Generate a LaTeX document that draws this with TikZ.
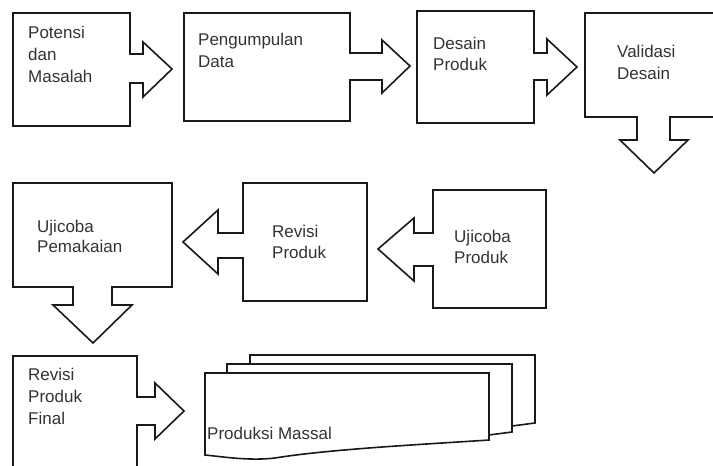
\documentclass[tikz,border=0pt]{standalone}
\usepackage{fontspec}
\setmainfont{Liberation Sans}
\usetikzlibrary{positioning}

\tikzset{
  blok/.style={draw=black!90,line width=1.6pt,fill=white,line join=miter},
  lbl/.style={anchor=north west,inner sep=0pt,align=left,text=black!80,
    font=\fontsize{17}{22}\selectfont}
}

\begin{document}
\begin{tikzpicture}[x=1pt,y=-1pt]
    \useasboundingbox (0,0) rectangle (713,466);

    %first row: boxes with right arrows
    \draw[blok] (13,13) -- (130,13) -- (130,54) -- (143,54) -- (143,42) -- (172,69)
        -- (143,97) -- (143,83) -- (130,83) -- (130,126) -- (13,126) -- cycle;
    \draw[blok] (184,13) -- (350,13) -- (350,53) -- (382,53) -- (382,40) -- (410,66)
        -- (382,93) -- (382,80) -- (350,80) -- (350,121) -- (184,121) -- cycle;
    \draw[blok] (417,11) -- (534,11) -- (534,53) -- (547,53) -- (547,39) -- (577,67)
        -- (547,95) -- (547,80) -- (534,80) -- (534,123) -- (417,123) -- cycle;
    %last box of the row points down, cut by the page edge
    \draw[blok] (585,13) -- (725,13) -- (725,117) -- (670,117) -- (670,140) -- (688,140)
        -- (654,173) -- (620,140) -- (637,140) -- (637,117) -- (585,117) -- cycle;

    \node[lbl] (pot) at (28,26) {Potensi\\dan\\Masalah};
    \node[lbl] (peng) at (198,33) {Pengumpulan\\Data};
    \node[lbl,font=\fontsize{17}{21}\selectfont] (desain) at (433,37) {Desain\\Produk};
    \node[lbl] (valid) at (617,45) {Validasi\\Desain};

    %second row: arrows to the left
    \draw[blok] (433,190) -- (546,190) -- (546,308) -- (433,308) -- (433,266) -- (414,266)
        -- (414,281) -- (378,249) -- (414,218) -- (414,233) -- (433,233) -- cycle;
    \draw[blok] (243,183) -- (367,183) -- (367,301) -- (243,301) -- (243,258) -- (218,258)
        -- (218,274) -- (183,242) -- (218,210) -- (218,233) -- (243,233) -- cycle;
    \draw[blok] (13,183) -- (172,183) -- (172,287) -- (112,287) -- (112,305) -- (132,305)
        -- (93,343) -- (53,305) -- (73,305) -- (73,287) -- (13,287) -- cycle;

    \node[lbl,font=\fontsize{17}{21}\selectfont] (ujiprod) at (454,230) {Ujicoba\\Produk};
    \node[lbl,font=\fontsize{17}{21}\selectfont] (revisi) at (272,225) {Revisi\\Produk};
    \node[lbl,font=\fontsize{17}{20}\selectfont] (ujipakai) at (37,220) {Ujicoba\\Pemakaian};

    %third row
    \draw[blok] (13,480) -- (13,356) -- (137,356) -- (137,397) -- (155,397) -- (155,383)
        -- (184,411) -- (155,439) -- (155,425) -- (137,425) -- (137,480);
    \node[lbl] (revfinal) at (28,368) {Revisi\\Produk\\Final};

    %stack of documents
    \draw[blok] (512,426) -- (535,423) -- (535,355) -- (250,355) -- (250,364);
    \draw[blok] (489,435) -- (512,432) -- (512,364) -- (227,364) -- (227,373);
    \draw[blok] (205,373) -- (489,373) -- (489,440)
        .. controls (430,444) and (330,449) .. (275,458)
        .. controls (250,461) and (225,457) .. (205,455) -- cycle;
    \node[lbl] (massal) at (207,427) {Produksi Massal};
\end{tikzpicture}
\end{document}
